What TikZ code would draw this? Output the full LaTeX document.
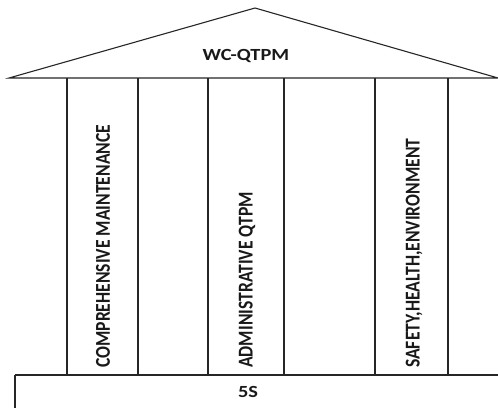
\documentclass[tikz,border=0pt]{standalone}
\usepackage{fontspec}
\setmainfont{Carlito}
\begin{document}
\begin{tikzpicture}[x=1pt,y=-1pt,
  edge/.style={draw=black!85,line width=1.1pt},
  lbl/.style={inner sep=0pt,font=\bfseries\fontsize{17}{20}\selectfont,text=black!90},
  vlbl/.style={inner sep=0pt,anchor=south,font=\bfseries\fontsize{17.6}{20}\selectfont,text=black!90}]
\useasboundingbox[fill=white] (0,0) rectangle (498,408);
% roof
\coordinate (rl) at (9,78);
\coordinate (ra) at (255,8);
\coordinate (rr) at (498,78);
\draw[edge,line join=miter] (rl) -- (ra) -- (rr) -- cycle;
\node[lbl] (title) at (246,56) {\scalebox{1.2}[1]{WC-QTPM}};
% pillars
\foreach \n/\x in {p1/67,p2/138,p3/208,p4/284,p5/375,p6/448}{
  \coordinate (\n t) at (\x,78);
  \coordinate (\n b) at (\x,375);
  \draw[edge] (\n t) -- (\n b);
}
% base
\coordinate (bl) at (15,408);
\coordinate (btl) at (15,375);
\coordinate (btr) at (498,375);
\draw[edge] (btr) -- (btl);
\draw[draw=black!85,line width=2pt] (btl) -- (bl);
\node[lbl] (fives) at (248,392) {\scalebox{1.2}[1]{5S}};
% pillar labels
\node[vlbl] (cm) at (103,368) {\rotatebox{90}{\scalebox{1}[1.2]{COMPREHENSIVE MAINTENANCE}}};
\node[vlbl] (aq) at (247,368) {\rotatebox{90}{\scalebox{1}[1.2]{ADMINISTRATIVE QTPM}}};
\node[vlbl] (she) at (414,368) {\rotatebox{90}{\scalebox{1}[1.2]{SAFETY,HEALTH,ENVIRONMENT}}};
\end{tikzpicture}
\end{document}
